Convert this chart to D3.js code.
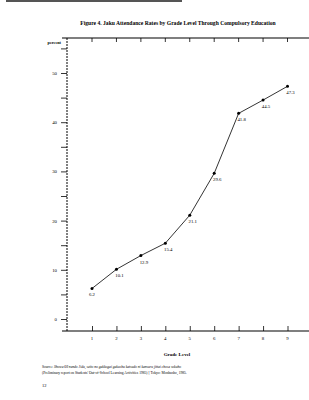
<!DOCTYPE html>
<html>
<head>
<meta charset="utf-8">
<script src="https://cdn.jsdelivr.net/npm/d3@7"></script>
<style>
  body { margin: 0; background: #fff; }
  svg { display: block; font-family: "Liberation Serif", "DejaVu Serif", serif; }
</style>
</head>
<body>
<div id="chart-area"></div>
<script>
// data
var grades = [1, 2, 3, 4, 5, 6, 7, 8, 9];
var rates = [6.2, 10.1, 12.9, 15.4, 21.1, 29.6, 41.8, 44.5, 47.3];
var yTicks = [0, 10, 20, 30, 40, 50];

var width = 309, height = 400;

var svg = d3.select('#chart-area')
    .append('svg')
        .attr('width', width)
        .attr('height', height);

// scan artifact along the top edge
svg.append('rect')
    .attr('x', 6).attr('y', 0)
    .attr('width', 176).attr('height', 2)
    .attr('fill', '#555');

var x = d3.scaleLinear().domain([1, 9]).range([92, 287.5]);
var y = d3.scaleLinear().domain([0, 50]).range([319, 73]);

var axisX = 67, topY = 38, botY = 331;

svg.append('text')
    .attr('x', 178)
    .attr('y', 25)
    .attr('text-anchor', 'middle')
    .attr('font-size', '5.6px')
    .attr('font-weight', 'bold')
    .text('Figure 4. Jaku Attendance Rates by Grade Level Through Compulsory Education');

// frame lines top and bottom
svg.append('line')
    .attr('x1', 62).attr('x2', 309)
    .attr('y1', topY).attr('y2', topY)
    .attr('stroke', '#000').attr('stroke-width', 1.2);
svg.append('line')
    .attr('x1', 62).attr('x2', 309)
    .attr('y1', botY).attr('y2', botY)
    .attr('stroke', '#000').attr('stroke-width', 1.2);

// ticks on top and bottom lines
svg.selectAll('.top-tick')
    .data(grades).enter().append('line')
    .attr('x1', d => x(d)).attr('x2', d => x(d))
    .attr('y1', topY).attr('y2', topY + 4)
    .attr('stroke', '#000').attr('stroke-width', 0.8);

var bottomAxis = d3.axisTop(x)
    .tickValues(grades)
    .tickSize(5)
    .tickFormat('');
svg.append('g')
    .attr('transform', 'translate(0,' + botY + ')')
    .call(bottomAxis)
    .call(g => g.select('.domain').remove())
    .call(g => g.selectAll('line').attr('stroke-width', 0.8));

svg.selectAll('.x-label')
    .data(grades).enter().append('text')
    .attr('x', d => x(d))
    .attr('y', 340)
    .attr('text-anchor', 'middle')
    .attr('font-size', '4.8px')
    .text(d => d);

// dashed vertical axis
svg.append('line')
    .attr('x1', axisX).attr('x2', axisX)
    .attr('y1', topY).attr('y2', botY)
    .attr('stroke', '#000').attr('stroke-width', 1)
    .attr('stroke-dasharray', '2,1');

var leftAxis = d3.axisLeft(y)
    .tickValues(d3.range(0, 60, 5))
    .tickSize(6)
    .tickFormat(d => yTicks.indexOf(d) >= 0 ? d : '');
svg.append('g')
    .attr('transform', 'translate(' + axisX + ',0)')
    .call(leftAxis)
    .call(g => g.select('.domain').remove())
    .call(g => g.selectAll('line').attr('stroke-width', 0.8))
    .call(g => g.selectAll('text')
        .attr('font-family', '"Liberation Serif", serif')
        .attr('font-size', '4.8px')
        .attr('x', -10));

svg.append('text')
    .attr('x', 61)
    .attr('y', 44)
    .attr('text-anchor', 'end')
    .attr('font-size', '4.2px')
    .attr('font-weight', 'bold')
    .text('percent');

// the data line
var line = d3.line()
    .x((d, i) => x(grades[i]))
    .y(d => y(d));

svg.append('path')
    .datum(rates)
    .attr('d', line)
    .attr('fill', 'none')
    .attr('stroke', '#000')
    .attr('stroke-width', 0.8);

svg.selectAll('.pt')
    .data(rates).enter().append('circle')
    .attr('cx', (d, i) => x(grades[i]))
    .attr('cy', d => y(d))
    .attr('r', 1.5)
    .attr('fill', '#000');

svg.selectAll('.val')
    .data(rates).enter().append('text')
    .attr('x', (d, i) => x(grades[i]) + (i === 0 ? 0 : 3))
    .attr('y', d => y(d) + 8)
    .attr('text-anchor', 'middle')
    .attr('font-size', '4.8px')
    .text(d => d.toFixed(1));

svg.append('text')
    .attr('x', 177)
    .attr('y', 356)
    .attr('text-anchor', 'middle')
    .attr('font-size', '5px')
    .attr('font-weight', 'bold')
    .text('Grade Level');

var src = svg.append('g').attr('font-size', '3.6px');
var s1 = src.append('text').attr('x', 42).attr('y', 368);
s1.append('tspan').text('Source: ');
s1.append('tspan').attr('font-style', 'italic')
    .text('Showa 60 nendo Jidu, seito no gakkogai gakushu katsudo ni kansuru jittai chosa sokuho');
src.append('text').attr('x', 42).attr('y', 374)
    .text("(Preliminary report on Students' Out-of-School Learning Activities 1985) [ Tokyo:  Monbusho, 1985.");

svg.append('text')
    .attr('x', 42)
    .attr('y', 387)
    .attr('font-size', '4.5px')
    .text('12');
</script>
</body>
</html>
